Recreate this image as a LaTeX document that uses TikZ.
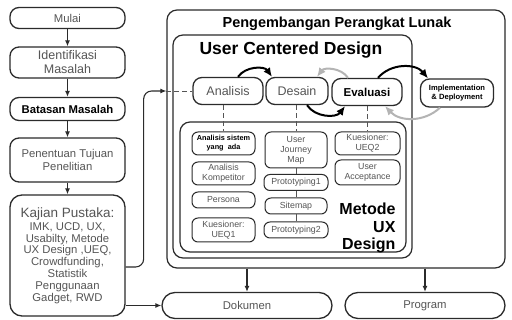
\documentclass[tikz,border=0pt]{standalone}
\usepackage{fontspec}
\setmainfont{Liberation Sans}
\usetikzlibrary{arrows.meta, positioning, calc}
\definecolor{ink}{HTML}{2b2b2b}
\definecolor{txtgray}{HTML}{555555}
\definecolor{cyclegray}{HTML}{b4b4b4}
\tikzset{
  stepbox/.style  = {draw=ink, line width=1.3pt, rounded corners=9pt, fill=white,
                     text=txtgray, align=center, minimum width=115pt, inner sep=1pt,
                     font=\fontsize{11.3}{12.5}\selectfont},
  stagebox/.style = {draw=ink, line width=1.3pt, rounded corners=9pt, fill=white,
                     text=txtgray, align=center, minimum height=27pt, inner sep=1pt,
                     font=\fontsize{12.5}{14}\selectfont},
  subbox/.style   = {draw=ink, line width=1pt, rounded corners=6pt, fill=white,
                     text=txtgray, align=center, inner sep=1pt,
                     font=\fontsize{8.8}{10}\selectfont},
  frame/.style    = {draw=ink, line width=1.2pt, rounded corners=10pt},
  flow/.style     = {-{Latex[length=6pt,width=5pt]}, line width=1.1pt, draw=ink},
  cycblack/.style = {-{Latex[length=9pt,width=8pt]}, line width=2pt, draw=black},
  cycgray/.style  = {-{Latex[length=9pt,width=8pt]}, line width=2pt, draw=cyclegray},
  link/.style     = {draw=txtgray, line width=0.8pt, dash pattern=on 5pt off 3pt},
}

\begin{document}
\begin{tikzpicture}[x=1pt, y=-1pt]
    \path[use as bounding box, fill=white] (0,0) rectangle (512,320);

    % frames
    \node[frame, minimum width=338pt, minimum height=258pt] (pengembangan) at (336,139) {};
    \node[frame, minimum width=239pt, minimum height=223pt] (ucd) at (292.5,146.5) {};
    \node[frame, minimum width=226pt, minimum height=130pt] (metode) at (293,187) {};
    \node[font=\bfseries\fontsize{14.5}{16}\selectfont] (judul) at (337,24) {Pengembangan Perangkat Lunak};
    \node[font=\bfseries\fontsize{17.5}{20}\selectfont, anchor=west] (ucdjudul) at (196,50) {User Centered Design};
    \node[font=\bfseries\fontsize{16}{17.5}\selectfont, align=right, anchor=east] (metodejudul) at (399,228) {Metode\\UX\\Design};

    % left column
    \node[stepbox, minimum height=21pt]  (mulai)   at (67.5,18)    {Mulai};
    \node[stepbox, minimum height=31pt, font=\fontsize{12.5}{14}\selectfont] (ident) at (67.5,62.5) {Identifikasi\\Masalah};
    \node[stepbox, minimum height=23pt, text=black, font=\bfseries\fontsize{11.3}{12.5}\selectfont] (batasan) at (67.5,109) {Batasan Masalah};
    \node[stepbox, minimum height=44pt]  (tujuan)  at (67.5,160)   {Penentuan Tujuan\\Penelitian};
    \node[stepbox, minimum height=121pt, rounded corners=12pt, font=\fontsize{11.3}{11.8}\selectfont] (kajian) at (67.5,255.5)
      {{\fontsize{13.5}{15}\selectfont Kajian Pustaka:}\\[1pt]IMK, UCD, UX,\\Usabilty, Metode\\UX Design ,UEQ,\\Crowdfunding,\\Statistik\\Penggunaan\\Gadget, RWD};

    % outputs
    \node[stepbox, minimum width=170pt, minimum height=26pt, rounded corners=13pt] (dokumen) at (247,305.5) {Dokumen};
    \node[stepbox, minimum width=160pt, minimum height=26pt, rounded corners=13pt] (program) at (425,305.5) {Program};

    % UCD stages
    \node[stagebox, minimum width=70pt] (analisis) at (228,91) {Analisis};
    \node[stagebox, minimum width=62pt] (desain)   at (297,91) {Desain};
    \node[stagebox, minimum width=70pt, text=black, font=\bfseries\fontsize{11.5}{13}\selectfont] (evaluasi) at (367,92) {Evaluasi};
    \node[stagebox, minimum width=73pt, minimum height=28pt, text=black, font=\bfseries\fontsize{7.6}{9}\selectfont] (impl) at (457,93) {Implementation\\\& Deployment};

    % metode UX design items
    \node[subbox, minimum width=63pt, minimum height=23pt, text=black, font=\bfseries\fontsize{7.3}{9}\selectfont] (sistem) at (223.5,143.5) {Analisis sistem\\yang\ \ ada};
    \node[subbox, minimum width=63pt, minimum height=23pt] (kompetitor) at (223.5,173.5) {Analisis\\Kompetitor};
    \node[subbox, minimum width=63pt, minimum height=16pt] (persona)    at (223.5,200)   {Persona};
    \node[subbox, minimum width=63pt, minimum height=24pt] (ueqsatu)    at (223.5,230)   {Kuesioner:\\UEQ1};
    \node[subbox, minimum width=62pt, minimum height=36pt] (journey)    at (296,150)     {User\\Journey\\Map};
    \node[subbox, minimum width=64pt, minimum height=16pt] (protosatu)  at (296,182.5)   {Prototyping1};
    \node[subbox, minimum width=62pt, minimum height=16pt] (sitemap)    at (296,206)     {Sitemap};
    \node[subbox, minimum width=64pt, minimum height=16pt] (protodua)   at (296,230)     {Prototyping2};
    \node[subbox, minimum width=65pt, minimum height=23pt] (ueqdua)     at (367.5,143.5) {Kuesioner:\\UEQ2};
    \node[subbox, minimum width=65pt, minimum height=25pt] (acceptance) at (367.5,172.5) {User\\Acceptance};

    % left flow
    \draw[flow] (mulai)--(ident);
    \draw[flow] (ident)--(batasan);
    \draw[flow] (batasan)--(tujuan);
    \draw[flow] (tujuan)--(kajian);
    \draw[flow, rounded corners=8pt] ([yshift=-11.5pt]kajian.east) -- ++(18,0) |- (pengembangan.west |- analisis.west);
    \draw[link] (pengembangan.west |- analisis.west) -- (analisis.west);
    \draw[flow] (kajian.east |- dokumen.west) -- (dokumen.west);
    \draw[flow] (pengembangan.south -| dokumen.north) -- (dokumen.north);
    \draw[flow] (pengembangan.south -| program.north) -- (program.north);

    % cycle arrows
    \draw[cycblack] ([xshift=10pt]analisis.north) to[bend left=55] ([xshift=-25pt]desain.north);
    \draw[cycblack] ([xshift=10pt]desain.south) to[bend right=55] ([xshift=-22pt]evaluasi.south);
    \draw[cycgray]  ([xshift=-19pt]evaluasi.north) to[bend right=55] ([xshift=20pt]desain.north);
    \draw[cycblack] ([xshift=11pt]evaluasi.north) to[bend left=50] ([xshift=-29pt]impl.north);
    \draw[cycgray]  ([xshift=-17pt]impl.south) to[bend left=45] ([xshift=18pt]evaluasi.south);

    % links into metode
    \draw[link] (sistem.north |- analisis.south) -- (sistem.north);
    \draw[link] (journey.north |- desain.south) -- (journey.north);
    \draw[link] (ueqdua.north |- evaluasi.south) -- (ueqdua.north);
    \draw[draw=txtgray, line width=0.8pt] (journey)--(protosatu);
    \draw[draw=txtgray, line width=0.8pt] (protosatu)--(sitemap);
    \draw[draw=txtgray, line width=0.8pt] (sitemap)--(protodua);
\end{tikzpicture}
\end{document}
